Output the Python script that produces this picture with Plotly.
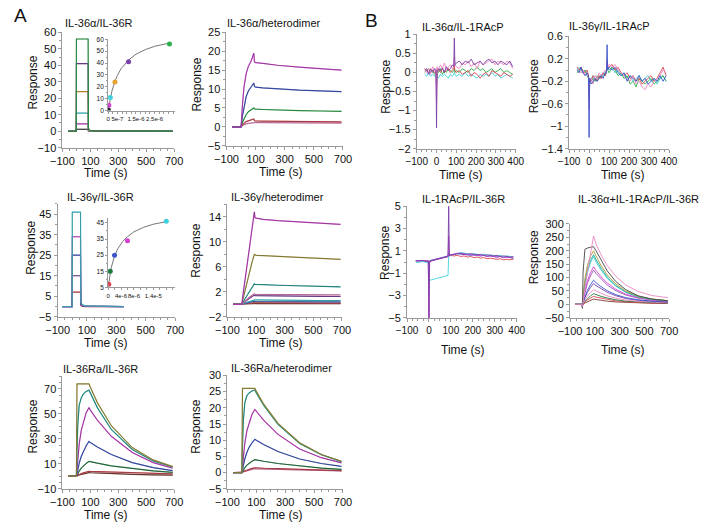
import plotly.graph_objects as go

W, H = 713, 529
AX = "#9a9a9a"
FONT = "Liberation Sans, Arial, sans-serif"

GREEN = "#2bb04a"; TEAL = "#1fa89c"; CYAN = "#3fd0dd"; MAGENTA = "#d33fd3"; PINK = "#ee88c2"
PURPLE = "#7b3fa8"; BLUE = "#3a55c8"; RED = "#d9454f"; ORANGE = "#e6a12e"; OLIVE = "#a99b3c"
BLACK = "#222222"; DKGREEN = "#1f7a3f"; BROWN = "#7a3b2e"; FIT = "#333333"

# ---------------- A1: IL-36a/IL-36R (square pulses) ----------------
a1_time = [-60, -1, 0, 84, 86, 95, 120, 690]
a1_green = [0, 0, 56, 56, 2.0, 0.6, 0.2, 0.1]
a1_purple = [0, 0, 41, 41, 1.5, 0.5, 0.2, 0.1]
a1_orange = [0, 0, 24, 24, 1.0, 0.4, 0.1, 0.0]
a1_cyan = [0, 0, 11, 11, 0.6, 0.2, 0.0, 0.0]
a1_magenta = [0, 0, 4.5, 4.5, 0.3, 0.1, 0.0, 0.0]
a1_black = [0, 0, 1.2, 1.2, 0.2, 0.0, 0.0, 0.0]
# inset
a1i_conc = [1.4e-8, 4.1e-8, 1.2e-7, 3.7e-7, 1.1e-6, 3.3e-6]
a1i_resp = [0.5, 4.5, 11, 24, 41, 56]
a1i_fit_x = [0, 5e-8, 1.2e-7, 2e-7, 3.7e-7, 5e-7, 7e-7, 1.1e-6, 1.5e-6, 2e-6, 2.5e-6, 3e-6, 3.35e-6]
a1i_fit_y = [0, 4.9, 10.6, 16, 24.7, 29.6, 35.3, 42.5, 47.4, 51.3, 54, 55.9, 57]

# ---------------- A2: IL-36a/heterodimer ----------------
a2_time = [-60, 0, 10, 20, 35, 50, 70, 88, 92, 100, 150, 250, 400, 550, 690]
a2_magenta = [0, 0, 6, 10.5, 14, 16, 17.5, 19.5, 17.2, 17.0, 16.8, 16.3, 15.8, 15.3, 15.0]
a2_blue = [0, 0, 3, 5.5, 8, 9.5, 10.8, 11.6, 10.7, 10.5, 10.3, 10.0, 9.7, 9.5, 9.3]
a2_green = [0, 0, 1.2, 2.2, 3.2, 4.0, 4.6, 5.0, 4.75, 4.7, 4.6, 4.45, 4.3, 4.2, 4.1]
a2_red = [0, 0, 0.6, 1.0, 1.4, 1.6, 1.9, 2.1, 1.6, 1.55, 1.5, 1.45, 1.4, 1.35, 1.3]
a2_pink = [0, 0, 0.4, 0.6, 0.8, 0.9, 1.0, 1.2, 1.15, 1.15, 1.1, 1.1, 1.05, 1.0, 1.0]

# ---------------- A3: IL-36g/IL-36R (square pulses) ----------------
a3_time = [-70, -1, 0, 56, 58, 66, 85, 350]
a3_cyan = [0, 0, 46, 46, 2.5, 1.0, 0.3, 0]
a3_magenta = [0, 0, 34, 34, 2.0, 0.8, 0.2, 0]
a3_blue = [0, 0, 25, 25, 1.5, 0.6, 0.2, 0]
a3_purple = [0, 0, 15, 15, 1.0, 0.4, 0.1, 0]
a3_red = [0, 0, 7, 7, 0.6, 0.2, 0.0, 0]
a3i_conc = [2.2e-7, 6.7e-7, 2e-6, 6e-6, 1.8e-5]
a3i_resp = [7, 15, 25, 34, 46]
a3i_fit_x = [2e-7, 5e-7, 1e-6, 2e-6, 3e-6, 4.5e-6, 6e-6, 8e-6, 1.1e-5, 1.4e-5, 1.8e-5]
a3i_fit_y = [7.5, 12, 17.5, 24.5, 29, 33.5, 36.5, 39.5, 42.3, 44.2, 45.8]

# ---------------- A4: IL-36g/heterodimer ----------------
a4_time = [-60, 0, 10, 20, 35, 50, 70, 88, 92, 100, 150, 250, 400, 550, 690]
a4_top = [0, 0, 1.8, 3.6, 6.3, 8.8, 11.8, 14.8, 13.9, 13.8, 13.6, 13.4, 13.2, 13.0, 12.8]
a4_olive = [0, 0, 1.0, 2.0, 3.5, 5.0, 6.6, 8.0, 7.9, 7.85, 7.8, 7.65, 7.5, 7.35, 7.2]
a4_teal = [0, 0, 0.4, 0.8, 1.4, 2.0, 2.7, 3.3, 3.2, 3.2, 3.15, 3.05, 3.0, 2.9, 2.8]
a4_pink = [0, 0, 0.2, 0.45, 0.8, 1.1, 1.4, 1.7, 1.6, 1.6, 1.6, 1.6, 1.55, 1.55, 1.5]
a4_purple = [0, 0, 0.2, 0.4, 0.7, 0.9, 1.2, 1.5, 1.4, 1.4, 1.38, 1.35, 1.3, 1.28, 1.25]
a4_cyan = [0, 0, 0.1, 0.2, 0.3, 0.45, 0.6, 0.75, 0.7, 0.7, 0.68, 0.65, 0.63, 0.6, 0.6]
a4_blue = [0, 0, 0.1, 0.15, 0.25, 0.3, 0.4, 0.5, 0.45, 0.45, 0.45, 0.42, 0.4, 0.4, 0.4]
a4_red = [0, 0, 0.05, 0.1, 0.15, 0.2, 0.25, 0.3, 0.25, 0.25, 0.25, 0.22, 0.2, 0.2, 0.2]
a4_brown = [0, 0, 0.02, 0.05, 0.07, 0.1, 0.12, 0.15, 0.12, 0.12, 0.1, 0.1, 0.1, 0.1, 0.1]

# ---------------- A5: IL-36Ra/IL-36R ----------------
a5_time = [-60, 0, 4, 10, 20, 35, 50, 70, 90, 100, 150, 250, 400, 550, 690]
a5_olive = [0, 0, 74, 74, 74, 74, 74, 74, 74, 71.3, 59, 40.5, 23, 13.1, 7.8]
a5_teal = [0, 0, 20, 42, 57, 63, 66, 68, 69, 66.5, 55, 37.5, 21.5, 12.3, 7.5]
a5_magenta = [0, 0, 5, 14, 26, 37, 44, 51, 55, 53, 45, 32, 19, 11, 6.5]
a5_blue = [0, 0, 2, 5.5, 10.5, 16, 20, 24.5, 28, 27, 23.5, 17.5, 11, 7, 4.5]
a5_green = [0, 0, 0.8, 2.2, 4.2, 6.5, 8.3, 10.3, 12, 11.7, 10.5, 8.3, 6, 4.3, 3.2]
a5_red = [0, 0, 0.3, 0.8, 1.5, 2.2, 2.8, 3.5, 4, 3.9, 3.7, 3.2, 2.7, 2.3, 2.0]
a5_brown = [0, 0, 0.2, 0.6, 1.1, 1.6, 2.1, 2.6, 3, 2.9, 2.6, 2.1, 1.6, 1.2, 1.0]

# ---------------- A6: IL-36Ra/heterodimer ----------------
a6_time = [-60, 0, 4, 10, 20, 35, 50, 70, 90, 100, 150, 250, 400, 550, 690]
a6_olive = [0, 0, 26, 26, 26, 26, 26, 26, 26, 25.1, 21.2, 15.2, 9.2, 5.6, 3.5]
a6_teal = [0, 0, 8, 16, 21.5, 23.8, 24.6, 25.2, 25.5, 24.6, 20.8, 14.9, 9.0, 5.5, 3.4]
a6_magenta = [0, 0, 2, 5, 9, 13, 15.5, 18, 19.5, 18.9, 16.2, 11.8, 7.3, 4.6, 3.0]
a6_blue = [0, 0, 1, 2.3, 4.2, 6.3, 7.8, 9.2, 10.3, 10.0, 8.7, 6.5, 4.2, 2.8, 1.9]
a6_green = [0, 0, 0.3, 0.8, 1.5, 2.3, 2.9, 3.5, 4, 3.9, 3.5, 2.8, 2.0, 1.4, 1.0]
a6_red = [0, 0, 0.1, 0.3, 0.5, 0.8, 1.0, 1.3, 1.5, 1.45, 1.35, 1.2, 0.95, 0.75, 0.6]
a6_pink = [0, 0, 0.1, 0.2, 0.4, 0.6, 0.8, 1.0, 1.2, 1.15, 1.1, 0.95, 0.8, 0.65, 0.5]

# ---------------- B panels (noisy) ----------------
b_time = [-60, -50, -40, -30, -20, -10, -3, 0, 3, 10, 20, 30, 40, 50, 60, 70, 80, 87, 90, 93,
          100, 115, 130, 145, 160, 175, 190, 205, 220, 235, 250, 265, 280, 295, 310, 325, 340, 355, 370, 385]

b1_purple = [0.05, 0.1, -0.05, 0.08, 0.0, 0.1, 0.05, -1.45, 0.0, 0.1, 0.05, 0.12, 0.0, 0.15, 0.05, 0.1, 0.2, 0.15, 0.9, 0.2,
             0.25, 0.3, 0.2, 0.3, 0.25, 0.35, 0.2, 0.25, 0.3, 0.2, 0.3, 0.35, 0.25, 0.3, 0.2, 0.3, 0.25, 0.2, 0.3, 0.15]
b1_pink = [0.1, 0.0, 0.1, -0.05, 0.15, 0.05, 0.1, -0.8, 0.15, 0.05, 0.2, 0.1, 0.25, 0.05, 0.15, 0.2, 0.1, 0.15, 0.4, 0.2,
           0.15, 0.1, 0.25, 0.2, 0.3, 0.15, 0.25, 0.1, 0.3, 0.2, 0.25, 0.3, 0.35, 0.2, 0.3, 0.25, 0.2, 0.3, 0.25, 0.1]
b1_cyan = [-0.05, -0.1, 0.0, -0.1, -0.05, -0.1, -0.05, -0.3, -0.1, -0.15, -0.05, -0.1, -0.05, -0.1, -0.15, -0.05, -0.1, -0.05, 0.0, -0.05,
           -0.1, -0.05, -0.1, 0.0, -0.1, -0.05, -0.1, -0.15, -0.05, -0.1, -0.05, -0.1, 0.0, -0.1, -0.05, -0.15, -0.1, -0.05, -0.1, -0.15]
b1_green = [0.0, 0.05, 0.1, 0.0, 0.05, -0.05, 0.0, -0.2, 0.05, 0.0, 0.1, -0.05, 0.05, 0.0, 0.1, 0.05, 0.0, 0.05, 0.1, 0.0,
            0.05, 0.0, 0.1, 0.05, 0.0, 0.1, 0.05, 0.15, 0.05, 0.1, 0.0, 0.05, 0.1, 0.0, 0.05, 0.1, 0.0, 0.05, 0.0, -0.05]
b1_orange = [0.1, 0.05, 0.0, 0.1, 0.05, 0.0, 0.05, -0.4, 0.1, 0.05, 0.0, 0.1, 0.0, 0.05, 0.1, 0.0, 0.05, 0.1, 0.2, 0.05,
             0.0, 0.05, -0.05, 0.0, 0.05, -0.1, 0.0, -0.05, -0.15, -0.05, 0.0, -0.1, 0.05, 0.0, -0.05, -0.1, 0.0, -0.05, -0.1, -0.05]

b2_blue = [0.0, -0.05, 0.05, -0.05, -0.1, -0.05, -0.1, -1.2, -0.15, -0.25, -0.2, -0.15, -0.2, -0.15, -0.1, -0.15, -0.05, -0.05, 0.45, 0.0,
           0.05, 0.0, 0.05, -0.05, -0.1, -0.05, -0.2, -0.1, -0.15, -0.2, -0.1, -0.2, -0.15, -0.25, -0.2, -0.15, -0.2, -0.1, -0.2, -0.1]
b2_pink = [0.05, 0.0, -0.05, 0.0, -0.1, -0.05, -0.15, -0.7, -0.2, -0.15, -0.25, -0.1, -0.15, -0.05, -0.1, -0.05, 0.0, -0.05, 0.2, 0.05,
           0.1, 0.05, 0.1, 0.0, -0.05, -0.1, -0.15, -0.2, -0.1, -0.25, -0.2, -0.3, -0.35, -0.25, -0.3, -0.2, -0.15, -0.1, 0.0, -0.05]
b2_green = [-0.05, 0.0, 0.05, -0.05, 0.0, -0.1, -0.15, -0.4, -0.2, -0.2, -0.15, -0.2, -0.1, -0.15, -0.1, -0.05, -0.1, -0.05, 0.1, 0.0,
            -0.05, 0.05, 0.0, -0.1, -0.05, -0.15, -0.1, -0.25, -0.2, -0.3, -0.15, -0.2, -0.25, -0.2, -0.15, -0.25, -0.2, -0.15, -0.1, -0.2]
b2_cyan = [0.0, 0.05, 0.0, -0.05, 0.0, -0.1, -0.1, -0.3, -0.15, -0.15, -0.1, -0.2, -0.15, -0.1, -0.15, -0.1, -0.05, 0.0, 0.1, 0.05,
           0.0, 0.05, -0.05, 0.0, -0.1, -0.05, -0.15, -0.1, -0.2, -0.15, -0.1, -0.2, -0.15, -0.1, -0.2, -0.15, -0.25, -0.15, -0.1, -0.2]
b2_orange = [0.05, 0.0, 0.05, -0.05, -0.05, 0.0, -0.1, -0.5, -0.15, -0.2, -0.1, -0.15, -0.2, -0.1, -0.15, -0.05, -0.1, 0.0, 0.15, 0.05,
             0.05, 0.1, 0.0, 0.05, -0.05, -0.1, -0.05, -0.15, -0.1, -0.2, -0.15, -0.25, -0.2, -0.15, -0.1, -0.2, -0.15, -0.05, 0.05, -0.1]

b3_purple = [0.1, 0.12, 0.1, 0.15, 0.1, 0.12, 0.1, -5.2, 0.05, 0.1, 0.15, 0.2, 0.25, 0.3, 0.35, 0.4, 0.45, 0.5, 5.2, 0.6,
             0.65, 0.7, 0.75, 0.8, 0.75, 0.7, 0.75, 0.7, 0.65, 0.7, 0.6, 0.65, 0.6, 0.55, 0.6, 0.5, 0.55, 0.5, 0.45, 0.5]
b3_magenta = [0.15, 0.1, 0.15, 0.1, 0.12, 0.1, 0.1, -5.2, 0.0, 0.1, 0.15, 0.2, 0.25, 0.3, 0.35, 0.4, 0.45, 0.5, 2.3, 0.6,
              0.6, 0.7, 0.8, 0.75, 0.7, 0.65, 0.7, 0.6, 0.65, 0.55, 0.6, 0.5, 0.55, 0.5, 0.45, 0.5, 0.4, 0.45, 0.4, 0.35]
b3_cyan = [0.0, -0.05, 0.0, 0.05, 0.0, -0.05, 0.0, -1.7, -1.65, -1.6, -1.55, -1.5, -1.45, -1.4, -1.35, -1.3, -1.25, -1.2, 0.5, 0.55,
           0.6, 0.7, 0.8, 0.85, 0.8, 0.75, 0.7, 0.75, 0.7, 0.65, 0.7, 0.6, 0.65, 0.6, 0.55, 0.6, 0.5, 0.55, 0.5, 0.45]
b3_orange = [0.1, 0.15, 0.1, 0.1, 0.05, 0.1, 0.1, 0.0, 0.1, 0.15, 0.2, 0.25, 0.3, 0.35, 0.4, 0.45, 0.5, 0.5, 0.6, 0.55,
             0.6, 0.55, 0.6, 0.5, 0.55, 0.45, 0.5, 0.4, 0.45, 0.35, 0.4, 0.3, 0.35, 0.3, 0.25, 0.3, 0.2, 0.25, 0.2, 0.25]
b3_blue = [0.1, 0.1, 0.15, 0.1, 0.1, 0.05, 0.1, -0.5, 0.1, 0.15, 0.2, 0.25, 0.3, 0.35, 0.4, 0.45, 0.5, 0.55, 0.8, 0.6,
           0.65, 0.7, 0.75, 0.7, 0.7, 0.65, 0.6, 0.65, 0.6, 0.55, 0.6, 0.5, 0.55, 0.5, 0.45, 0.5, 0.4, 0.45, 0.4, 0.35]

# ---------------- B4: IL-36a+IL-1RAcP/IL-36R ----------------
b4_time = [-60, -2, 0, 5, 20, 40, 65, 90, 110, 150, 200, 270, 350, 450, 560, 690]
b4_pink = [0, 0, -10, 10, 60, 120, 185, 255, 225, 185, 145, 105, 72, 48, 33, 25]
b4_black = [0, 0, -15, 120, 205, 210, 213, 215, 200, 165, 125, 85, 55, 32, 20, 13]
b4_olive = [0, 0, -12, 30, 95, 145, 180, 200, 180, 145, 110, 76, 50, 30, 20, 14]
b4_green = [0, 0, -12, 25, 80, 130, 165, 185, 167, 135, 102, 70, 46, 28, 19, 13]
b4_cyan = [0, 0, -10, 20, 70, 118, 155, 178, 158, 128, 97, 68, 45, 28, 19, 14]
b4_magenta = [0, 0, -10, 12, 50, 88, 118, 140, 126, 103, 80, 56, 38, 25, 17, 12]
b4_purple = [0, 0, -8, 10, 42, 78, 106, 128, 115, 94, 72, 51, 35, 23, 16, 11]
b4_blue = [0, 0, -8, 6, 28, 52, 73, 90, 81, 66, 51, 36, 25, 17, 12, 9]
b4_dkpurple = [0, 0, -6, 5, 24, 45, 63, 78, 70, 58, 45, 32, 22, 15, 11, 8]
b4_lpink = [0, 0, -5, 3, 16, 31, 44, 55, 50, 41, 32, 23, 16, 11, 8, 6]
b4_dkgreen = [0, 0, -4, 2, 11, 22, 32, 40, 36, 30, 24, 17, 12, 9, 7, 5]
b4_red = [0, 0, -3, 1, 8, 16, 24, 30, 27, 23, 18, 13, 10, 7, 5, 4]
b4_brown = [0, 0, -2, 0, 5, 10, 15, 20, 18, 15, 12, 9, 7, 5, 4, 3]

fig = go.Figure()
layout = {}
annotations = []


def key(n):
    return "" if n == 1 else str(n)


def add_axes(n, xpx, ypx, xr, yr, xt, yt, fs=11, xfs=None, tlen=3):
    k = key(n)
    base = dict(showline=True, linecolor=AX, linewidth=1, ticks="outside", ticklen=tlen,
                tickcolor=AX, showgrid=False, zeroline=False, tickangle=0)
    xa = dict(base, domain=[xpx[0] / W, xpx[1] / W], range=xr, anchor="y" + k,
              tickfont=dict(size=xfs or fs, color="#111", family=FONT), **xt)
    ya = dict(base, domain=[1 - ypx[1] / H, 1 - ypx[0] / H], range=yr, anchor="x" + k,
              tickfont=dict(size=fs, color="#111", family=FONT), **yt)
    layout["xaxis" + k] = xa
    layout["yaxis" + k] = ya


def ticks(tick0, dtick, mdtick, mlen=2):
    return dict(tick0=tick0, dtick=dtick,
                minor=dict(ticks="outside", ticklen=mlen, tick0=tick0, dtick=mdtick, tickcolor=AX))


def line(n, x, y, color, width=1.0, opacity=1.0):
    k = key(n)
    fig.add_trace(go.Scatter(x=x, y=y, mode="lines", line=dict(color=color, width=width),
                             opacity=opacity, xaxis="x" + k, yaxis="y" + k,
                             showlegend=False, hoverinfo="skip"))


def fitted(n, x, y, color):
    line(n, x, y, color, 1.2)
    line(n, x, y, FIT, 0.5, 0.7)


def pts(n, x, y, colors):
    k = key(n)
    fig.add_trace(go.Scatter(x=x, y=y, mode="markers", marker=dict(color=colors, size=5),
                             xaxis="x" + k, yaxis="y" + k, showlegend=False, hoverinfo="skip"))


def text(x, y, s, size=11, angle=0):
    annotations.append(dict(x=x / W, y=1 - y / H, xref="paper", yref="paper", text=s,
                            showarrow=False, textangle=angle, xanchor="center", yanchor="middle",
                            font=dict(size=size, color="#111", family=FONT)))


XA = ticks(-100, 200, 50)

# A1
add_axes(1, (52, 167), (27, 145), [-100, 700], [-10, 60], XA, ticks(-10, 10, 5))
for arr, c in [(a1_black, BLACK), (a1_magenta, MAGENTA), (a1_cyan, CYAN), (a1_orange, ORANGE),
               (a1_purple, PURPLE), (a1_green, GREEN)]:
    fitted(1, a1_time, arr, c)
# A1 inset
add_axes(2, (99, 168), (34, 107), [0, 3.6e-6], [0, 60],
         dict(tickvals=[0, 5e-7, 1.5e-6, 2.5e-6], ticktext=["0", "5e-7", "1.5e-6", "2.5e-6"],
              minor=dict(ticks="outside", ticklen=2, dtick=2.5e-7, tick0=0, tickcolor=AX)),
         ticks(0, 10, 5, 1), fs=6.5, xfs=6, tlen=2)
line(2, a1i_fit_x, a1i_fit_y, "#777777", 1)
pts(2, a1i_conc, a1i_resp, [BLACK, MAGENTA, CYAN, ORANGE, PURPLE, GREEN])

# A2
add_axes(3, (221, 341), (27, 143), [-100, 700], [-5, 25], XA, ticks(-5, 5, 2.5))
for arr, c in [(a2_pink, PINK), (a2_red, RED), (a2_green, GREEN), (a2_blue, BLUE), (a2_magenta, MAGENTA)]:
    fitted(3, a2_time, arr, c)

# A3
add_axes(4, (47, 168), (202.5, 318), [-100, 700], [-5, 50], XA, ticks(-5, 10, 5))
for arr, c in [(a3_red, RED), (a3_purple, PURPLE), (a3_blue, BLUE), (a3_magenta, MAGENTA), (a3_cyan, CYAN)]:
    fitted(4, a3_time, arr, c)
add_axes(5, (99, 168), (217, 288), [0, 2.07e-5], [5, 48],
         dict(tickvals=[0, 4e-6, 8e-6, 1.4e-5], ticktext=["0", "4e-6", "8e-6", "1.4e-5"],
              minor=dict(ticks="outside", ticklen=2, dtick=2e-6, tick0=0, tickcolor=AX)),
         ticks(5, 10, 5, 1), fs=6.5, xfs=6, tlen=2)
line(5, a3i_fit_x, a3i_fit_y, "#777777", 1)
pts(5, a3i_conc, a3i_resp, [RED, DKGREEN, BLUE, MAGENTA, CYAN])

# A4
add_axes(6, (222, 340), (203, 318), [-100, 700], [-2, 16], XA, ticks(-2, 4, 2))
for arr, c in [(a4_brown, BROWN), (a4_red, RED), (a4_blue, BLUE), (a4_cyan, CYAN), (a4_purple, PURPLE),
               (a4_pink, PINK), (a4_teal, TEAL), (a4_olive, OLIVE), (a4_top, MAGENTA)]:
    fitted(6, a4_time, arr, c)

# A5
add_axes(7, (52, 167), (379, 494), [-100, 700], [-10, 80], XA, ticks(-10, 20, 5))
for arr, c in [(a5_brown, BROWN), (a5_red, RED), (a5_green, DKGREEN), (a5_blue, BLUE),
               (a5_magenta, MAGENTA), (a5_teal, TEAL), (a5_olive, OLIVE)]:
    fitted(7, a5_time, arr, c)

# A6
add_axes(8, (222, 341), (378, 494), [-100, 700], [-5, 30], XA, ticks(-5, 5, 2.5))
for arr, c in [(a6_pink, PINK), (a6_red, RED), (a6_green, DKGREEN), (a6_blue, BLUE),
               (a6_magenta, MAGENTA), (a6_teal, TEAL), (a6_olive, OLIVE)]:
    fitted(8, a6_time, arr, c)

XB = ticks(-100, 100, 25)
# B1
add_axes(9, (417, 519), (29, 146), [-100, 400], [-2, 1], XB, ticks(-2, 0.5, 0.25), xfs=10)
for arr, c in [(b1_cyan, CYAN), (b1_green, GREEN), (b1_orange, RED), (b1_pink, PINK), (b1_purple, PURPLE)]:
    line(9, b_time, arr, c, 0.9)
# B2
add_axes(10, (574, 677), (31, 146), [-100, 400], [-1.4, 0.6], XB, ticks(-1.4, 0.4, 0.2), xfs=10)
for arr, c in [(b2_cyan, CYAN), (b2_green, GREEN), (b2_orange, RED), (b2_pink, PINK), (b2_blue, BLUE)]:
    line(10, b_time, arr, c, 0.9)
# B3
add_axes(11, (407, 520), (205, 319), [-100, 400], [-5, 5], XB, ticks(-5, 2, 1), xfs=10)
for arr, c in [(b3_orange, RED), (b3_blue, BLUE), (b3_cyan, CYAN), (b3_magenta, MAGENTA), (b3_purple, PURPLE)]:
    line(11, b_time, arr, c, 0.9)
# B4
add_axes(12, (575, 677), (223, 319), [-100, 700], [-50, 300], XA, ticks(-50, 50, 25))
for arr, c in [(b4_brown, BROWN), (b4_red, RED), (b4_dkgreen, DKGREEN), (b4_lpink, PINK),
               (b4_dkpurple, PURPLE), (b4_blue, BLUE), (b4_purple, "#9b59b6"), (b4_magenta, MAGENTA),
               (b4_cyan, CYAN), (b4_green, TEAL), (b4_olive, OLIVE), (b4_black, "#444444"), (b4_pink, PINK)]:
    line(12, b4_time, arr, c, 0.9)

# Titles
text(90, 17, "IL-36α/IL-36R")
text(270, 17, "IL-36α/heterodimer")
text(91, 195, "IL-36γ/IL-36R")
text(274, 195, "IL-36γ/heterodimer")
text(91, 371, "IL-36Ra/IL-36R")
text(278, 370, "IL-36Ra/heterodimer")
text(465, 21, "IL-36α/IL-1RAcP")
text(616, 20, "IL-36γ/IL-1RAcP")
text(465, 197, "IL-1RAcP/IL-36R")
text(645, 197, "IL-36α+IL-1RAcP/IL-36R")
# axis titles
for (x, y) in [(22, 78), (191, 80), (20, 247), (190, 250), (22, 430), (190, 430), (385, 83), (538, 82),
               (385, 253), (538, 257)]:
    text(x, y, "Response", 12, -90)
for (x, y) in [(97, 171), (277, 170), (97, 345), (277, 345), (97, 521), (277, 521), (463, 173),
               (630, 173), (465, 352), (630, 352)]:
    text(x, y, "Time (s)", 12)
text(9, 10, "A", 19)
text(370, 15, "B", 19)

layout.update(width=W, height=H, margin=dict(l=0, r=0, t=0, b=0), paper_bgcolor="white",
              plot_bgcolor="rgba(0,0,0,0)", showlegend=False, annotations=annotations,
              font=dict(family=FONT, size=11, color="#111"))
fig.update_layout(**layout)
fig.write_html("out.html", post_script="document.body.style.margin='0';",
               config={"displayModeBar": False})
